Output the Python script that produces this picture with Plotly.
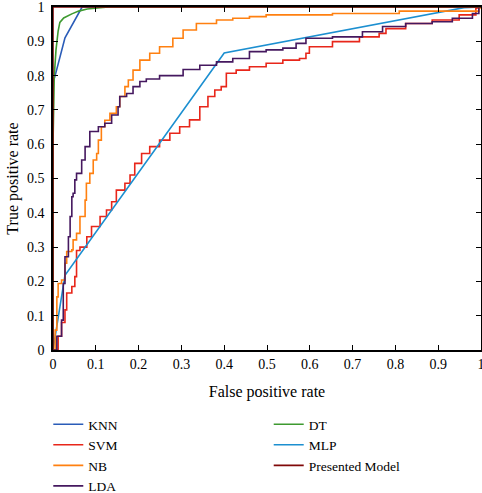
import plotly.graph_objects as go

# ---- data ----
knn_x = [0, 0, 0.005, 0.028, 0.068, 1.0]
knn_y = [0, 0.78, 0.80, 0.91, 1.0, 1.0]

dt_x = [0, 0, 0.003, 0.007, 0.012, 0.016, 0.025, 0.035, 0.044, 0.06, 0.08, 0.11, 0.13, 1.0]
dt_y = [0, 0.60, 0.80, 0.875, 0.93, 0.955, 0.968, 0.975, 0.98, 0.988, 0.994, 0.998, 1.0, 1.0]

svm_x = [0, 0.012, 0.012, 0.02, 0.02, 0.028, 0.028, 0.032, 0.032, 0.044, 0.044, 0.051, 0.051,
         0.055, 0.055, 0.063, 0.063, 0.079, 0.079, 0.09, 0.09, 0.11, 0.11, 0.125, 0.125,
         0.137, 0.137, 0.148, 0.148, 0.168, 0.168, 0.18, 0.18, 0.191, 0.191, 0.207, 0.207,
         0.226, 0.226, 0.249, 0.249, 0.273, 0.273, 0.296, 0.296, 0.319, 0.319, 0.343, 0.343,
         0.362, 0.362, 0.378, 0.378, 0.393, 0.393, 0.405, 0.405, 0.428, 0.428, 0.459, 0.459,
         0.498, 0.498, 0.537, 0.537, 0.576, 0.576, 0.591, 0.591, 0.599, 0.599, 0.653, 0.653,
         0.716, 0.716, 0.762, 0.762, 0.778, 0.778, 0.824, 0.824, 0.886, 0.886, 0.949, 0.949,
         0.988, 0.988, 1.0]
svm_y = [0, 0.0, 0.04, 0.04, 0.08, 0.08, 0.117, 0.117, 0.166, 0.166, 0.185, 0.185, 0.214,
         0.214, 0.29, 0.29, 0.30, 0.30, 0.33, 0.33, 0.36, 0.36, 0.389, 0.389, 0.408,
         0.408, 0.432, 0.432, 0.466, 0.466, 0.486, 0.486, 0.51, 0.51, 0.544, 0.544, 0.573,
         0.573, 0.593, 0.593, 0.612, 0.612, 0.632, 0.632, 0.651, 0.651, 0.671, 0.671, 0.709,
         0.709, 0.739, 0.739, 0.758, 0.758, 0.768, 0.768, 0.807, 0.807, 0.816, 0.816, 0.826,
         0.826, 0.836, 0.836, 0.845, 0.845, 0.85, 0.85, 0.865, 0.865, 0.884, 0.884, 0.899,
         0.899, 0.913, 0.913, 0.923, 0.923, 0.937, 0.937, 0.952, 0.952, 0.962, 0.962, 0.977,
         0.977, 0.996, 1.0]

mlp_x = [0, 0.028, 0.40, 0.96, 1.0]
mlp_y = [0, 0.218, 0.866, 0.998, 1.0]

nb_x = [0, 0.005, 0.005, 0.009, 0.009, 0.012, 0.012, 0.02, 0.02, 0.028, 0.028, 0.032, 0.032,
        0.044, 0.044, 0.047, 0.047, 0.055, 0.055, 0.063, 0.063, 0.075, 0.075, 0.078, 0.078,
        0.086, 0.086, 0.094, 0.094, 0.102, 0.102, 0.106, 0.106, 0.113, 0.113, 0.121, 0.121,
        0.133, 0.133, 0.148, 0.148, 0.156, 0.156, 0.168, 0.168, 0.176, 0.176, 0.187, 0.187,
        0.203, 0.203, 0.226, 0.226, 0.249, 0.249, 0.28, 0.28, 0.304, 0.304, 0.335, 0.335,
        0.382, 0.382, 0.42, 0.42, 0.459, 0.459, 0.498, 0.498, 0.653, 0.653, 0.809, 0.809,
        0.995, 0.995, 1.0]
nb_y = [0, 0.0, 0.058, 0.058, 0.155, 0.155, 0.194, 0.194, 0.204, 0.204, 0.253, 0.253, 0.287,
        0.287, 0.292, 0.292, 0.321, 0.321, 0.34, 0.34, 0.389, 0.389, 0.437, 0.437, 0.486,
        0.486, 0.515, 0.515, 0.554, 0.554, 0.573, 0.573, 0.612, 0.612, 0.651, 0.651, 0.67,
        0.67, 0.69, 0.69, 0.709, 0.709, 0.739, 0.739, 0.768, 0.768, 0.787, 0.787, 0.816,
        0.816, 0.845, 0.845, 0.865, 0.865, 0.884, 0.884, 0.909, 0.909, 0.933, 0.933, 0.952,
        0.952, 0.962, 0.962, 0.967, 0.967, 0.972, 0.972, 0.977, 0.977, 0.981, 0.981, 0.988,
        0.988, 0.993, 1.0]

lda_x = [0, 0.009, 0.009, 0.02, 0.02, 0.024, 0.024, 0.028, 0.028, 0.036, 0.036, 0.04, 0.04,
         0.044, 0.044, 0.047, 0.047, 0.051, 0.051, 0.055, 0.055, 0.067, 0.067, 0.075, 0.075,
         0.086, 0.086, 0.106, 0.106, 0.121, 0.121, 0.137, 0.137, 0.152, 0.152, 0.156, 0.156,
         0.172, 0.172, 0.187, 0.187, 0.203, 0.203, 0.218, 0.218, 0.249, 0.249, 0.288, 0.288,
         0.304, 0.304, 0.343, 0.343, 0.382, 0.382, 0.42, 0.42, 0.459, 0.459, 0.498, 0.498,
         0.537, 0.537, 0.568, 0.568, 0.591, 0.591, 0.653, 0.653, 0.723, 0.723, 0.77, 0.77,
         0.824, 0.824, 0.886, 0.886, 0.933, 0.933, 0.98, 0.98, 0.995, 0.995, 1.0]
lda_y = [0, 0.0, 0.04, 0.04, 0.087, 0.087, 0.194, 0.194, 0.272, 0.272, 0.33, 0.33, 0.389,
         0.389, 0.447, 0.447, 0.457, 0.457, 0.496, 0.496, 0.515, 0.515, 0.554, 0.554, 0.593,
         0.593, 0.637, 0.637, 0.651, 0.651, 0.661, 0.661, 0.685, 0.685, 0.709, 0.709, 0.739,
         0.739, 0.748, 0.748, 0.768, 0.768, 0.783, 0.783, 0.79, 0.79, 0.80, 0.80, 0.80,
         0.80, 0.818, 0.818, 0.83, 0.83, 0.84, 0.84, 0.85, 0.85, 0.87, 0.87, 0.875,
         0.875, 0.88, 0.88, 0.894, 0.894, 0.909, 0.909, 0.913, 0.913, 0.928, 0.928, 0.943,
         0.943, 0.952, 0.952, 0.957, 0.957, 0.967, 0.967, 0.981, 0.981, 1.0, 1.0]

pm_x = [0, 0, 1.0]
pm_y = [0, 1.0, 1.0]

tick_vals = [0, 0.1, 0.2, 0.3, 0.4, 0.5, 0.6, 0.7, 0.8, 0.9, 1]
tick_text = ["0", "0.1", "0.2", "0.3", "0.4", "0.5", "0.6", "0.7", "0.8", "0.9", "1"]

# name, x, y, colour, legend, rank
series = [
    ("SVM", svm_x, svm_y, "#e8261a", "legend", 2),
    ("MLP", mlp_x, mlp_y, "#1c8fd0", "legend2", 2),
    ("NB", nb_x, nb_y, "#ff8010", "legend", 3),
    ("LDA", lda_x, lda_y, "#45185f", "legend", 4),
    ("KNN", knn_x, knn_y, "#2a5cb8", "legend", 1),
    ("DT", dt_x, dt_y, "#3e9a30", "legend2", 1),
    ("Presented Model", pm_x, pm_y, "#800808", "legend2", 3),
]

fig = go.Figure()
for name, xs, ys, col, leg, rank in series:
    fig.add_trace(go.Scatter(x=xs, y=ys, mode="lines", name=name, legend=leg,
                             line=dict(color=col, width=1.6), legendrank=rank))

font = "Liberation Serif, Times New Roman, serif"
axis_common = dict(range=[0, 1], tickvals=tick_vals, ticktext=tick_text,
                   ticks="inside", ticklen=5, tickcolor="black", tickwidth=1,
                   showline=True, linecolor="black", linewidth=1.5, mirror="ticks",
                   showgrid=False, zeroline=False, ticklabeloverflow="allow",
                   tickfont=dict(family=font, size=14, color="black"))

leg_common = dict(orientation="v", yanchor="top", xanchor="left",
                  font=dict(family=font, size=13.5, color="black"),
                  itemwidth=30, bgcolor="rgba(0,0,0,0)")

fig.update_layout(
    width=482, height=493,
    margin=dict(l=53, r=1, t=7, b=143, autoexpand=False),
    plot_bgcolor="white", paper_bgcolor="white",
    font=dict(family=font, size=14, color="black"),
    xaxis=dict(axis_common, title=dict(text="False positive rate",
                                      font=dict(family=font, size=16), standoff=15)),
    yaxis=dict(axis_common, ticklabelstandoff=4,
               title=dict(text="True positive rate",
                          font=dict(family=font, size=16), standoff=4)),
    legend=dict(leg_common, x=-0.011, y=-0.172),
    legend2=dict(leg_common, x=0.504, y=-0.172),
    showlegend=True,
)

fig.write_html("out.html", config={"displayModeBar": False},
               post_script="document.body.style.margin='0';document.body.style.overflow='hidden';")
